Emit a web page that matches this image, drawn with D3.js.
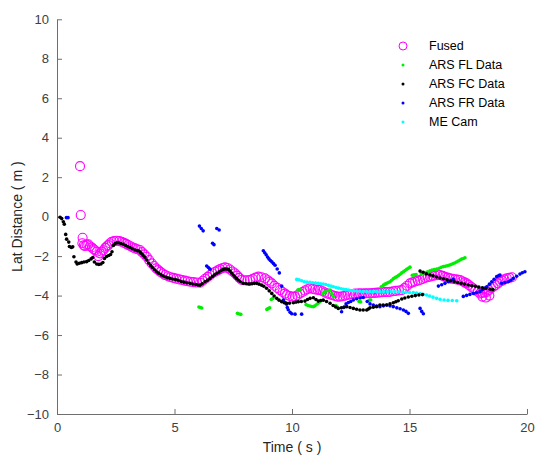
<!DOCTYPE html>
<html>
<head>
<meta charset="utf-8">
<script src="https://cdn.jsdelivr.net/npm/d3@7"></script>
<style>
  body { margin: 0; background: #fff; }
  svg { font-family: "Liberation Sans", Arial, sans-serif; }
</style>
</head>
<body>
<div id="chart"></div>
<script>
// tick labels
const xTicks = [0, 5, 10, 15, 20];
const yTicks = [-10, -8, -6, -4, -2, 0, 2, 4, 6, 8, 10];

// Fused estimate [time, lat]
const fused = [
  [0.98,2.56],[1.01,0.08],[1.09,-1.07],[1.08,-1.35],[1.14,-1.45],[1.19,-1.49],[1.26,-1.42],[1.33,-1.4],[1.4,-1.5],[1.48,-1.56],
  [1.55,-1.64],[1.62,-1.7],[1.69,-1.78],[1.76,-2.0],[1.83,-1.86],[1.9,-1.78],[1.97,-1.7],[2.05,-1.58],[2.12,-1.5],[2.18,-1.44],
  [2.25,-1.35],[2.33,-1.27],[2.43,-1.24],[2.54,-1.22],[2.65,-1.24],[2.75,-1.27],[2.85,-1.33],[2.94,-1.38],[3.03,-1.44],[3.13,-1.5],
  [3.22,-1.56],[3.32,-1.61],[3.42,-1.65],[3.53,-1.69],[3.62,-1.8],[3.72,-1.91],[3.82,-2.03],[3.92,-2.2],[4.03,-2.37],[4.13,-2.5],
  [4.22,-2.62],[4.31,-2.71],[4.4,-2.8],[4.5,-2.88],[4.6,-2.96],[4.72,-3.02],[4.83,-3.07],[4.95,-3.1],[5.07,-3.14],[5.2,-3.18],
  [5.32,-3.21],[5.44,-3.24],[5.55,-3.27],[5.66,-3.3],[5.8,-3.32],[5.95,-3.34],[6.09,-3.35],[6.2,-3.25],[6.3,-3.15],[6.41,-3.05],
  [6.51,-2.96],[6.62,-2.87],[6.73,-2.79],[6.84,-2.72],[6.94,-2.66],[7.05,-2.6],[7.15,-2.57],[7.25,-2.6],[7.36,-2.68],[7.47,-2.78],
  [7.57,-2.87],[7.67,-2.99],[7.76,-3.1],[7.86,-3.21],[7.98,-3.22],[8.1,-3.22],[8.21,-3.21],[8.33,-3.15],[8.45,-3.09],[8.57,-3.04],
  [8.7,-3.07],[8.85,-3.13],[8.97,-3.22],[9.05,-3.3],[9.14,-3.38],[9.25,-3.5],[9.37,-3.61],[9.49,-3.72],[9.6,-3.82],[9.7,-3.9],
  [9.77,-3.97],[9.9,-4.02],[10.02,-4.05],[10.13,-4.06],[10.23,-3.98],[10.34,-3.89],[10.45,-3.82],[10.55,-3.74],[10.66,-3.68],[10.77,-3.63],
  [10.88,-3.66],[10.98,-3.69],[11.09,-3.71],[11.19,-3.72],[11.3,-3.78],[11.4,-3.84],[11.51,-3.9],[11.62,-3.94],[11.72,-3.98],[11.83,-4.02],
  [11.94,-4.05],[12.04,-4.06],[12.15,-4.03],[12.26,-4.0],[12.36,-3.97],[12.47,-3.94],[12.58,-3.92],[12.68,-3.9],[12.79,-3.9],[12.89,-3.89],
  [13.0,-3.9],[13.1,-3.89],[13.21,-3.88],[13.32,-3.89],[13.42,-3.87],[13.53,-3.86],[13.64,-3.85],[13.74,-3.84],[13.85,-3.83],[13.96,-3.82],
  [14.06,-3.82],[14.17,-3.81],[14.3,-3.78],[14.42,-3.76],[14.55,-3.74],[14.67,-3.72],[14.78,-3.62],[14.9,-3.5],[15.02,-3.38],[15.13,-3.33],
  [15.24,-3.28],[15.35,-3.24],[15.45,-3.21],[15.56,-3.16],[15.66,-3.11],[15.77,-3.07],[15.87,-3.04],[15.98,-3.0],[16.09,-2.98],[16.2,-2.97],
  [16.3,-2.96],[16.41,-3.0],[16.51,-3.05],[16.62,-3.09],[16.72,-3.13],[16.83,-3.15],[16.94,-3.17],[17.04,-3.19],[17.15,-3.21],[17.24,-3.27],
  [17.34,-3.33],[17.43,-3.38],[17.52,-3.46],[17.62,-3.55],[17.71,-3.63],[17.8,-3.72],[17.9,-3.8],[18.0,-3.89],[18.1,-3.86],[18.19,-3.84],
  [18.29,-3.81],[18.38,-3.72],[18.48,-3.63],[18.57,-3.55],[18.66,-3.47],[18.76,-3.38],[18.85,-3.3],[18.95,-3.24],[19.04,-3.18],[19.14,-3.13],
  [19.25,-3.1],[19.36,-3.07],[18.1,-4.05],[18.25,-4.1],[18.4,-4.0]
];

// ARS front-left radar
const arsFL = [
  [6.04,-4.58],[6.1,-4.6],[6.16,-4.63],
  [7.68,-4.9],[7.75,-4.93],[7.82,-4.95],
  [8.93,-4.7],[8.99,-4.66],[9.05,-4.62],
  [9.12,-4.2],[9.18,-4.15],
  [10.25,-3.72],[10.3,-3.7],[10.36,-3.72],
  [10.6,-4.46],[10.68,-4.5],[10.76,-4.53],[10.84,-4.55],[10.91,-4.56],[10.98,-4.52],[11.06,-4.44],[11.13,-4.37],[11.19,-4.31],
  [11.3,-3.92],[11.36,-3.86],[11.42,-3.8],
  [11.56,-3.74],[11.62,-3.72],[11.69,-3.9],[11.76,-4.06],
  [11.86,-4.5],[11.92,-4.57],
  [12.85,-4.3],[12.92,-4.32],
  [13.28,-4.24],[13.35,-4.22],
  [13.8,-3.55],[13.89,-3.47],[13.96,-3.42],[14.03,-3.38],[14.1,-3.34],[14.17,-3.3],[14.24,-3.22],[14.32,-3.14],[14.39,-3.09],
  [14.46,-3.04],[14.53,-2.98],[14.6,-2.92],[14.67,-2.85],[14.74,-2.79],[14.81,-2.73],[14.88,-2.67],[14.95,-2.62],[15.02,-2.56],
  [15.12,-2.97],[15.2,-2.95],[15.28,-2.93],
  [15.5,-2.9],[15.59,-2.87],[15.68,-2.84],[15.77,-2.8],[15.87,-2.75],[15.96,-2.71],[16.06,-2.68],[16.16,-2.66],[16.26,-2.62],
  [16.35,-2.57],[16.44,-2.53],[16.52,-2.51],[16.6,-2.49],[16.68,-2.46],[16.76,-2.43],[16.84,-2.39],[16.92,-2.35],[17.0,-2.3],
  [17.08,-2.25],[17.15,-2.2],[17.22,-2.15],[17.29,-2.12],[17.36,-2.08]
];

// ARS front-centre radar
const arsFC = [
  [0.13,-0.03],[0.2,-0.1],[0.27,-0.26],[0.31,-0.38],[0.37,-0.9],[0.41,-1.14],[0.5,-1.29],[0.53,-1.51],[0.61,-1.56],[0.67,-1.53],
  [0.72,-2.03],[0.81,-2.3],[0.86,-2.4],[0.95,-2.36],[1.05,-2.33],[1.15,-2.3],[1.26,-2.28],[1.35,-2.22],[1.45,-2.14],[1.52,-2.07],
  [1.59,-2.3],[1.69,-2.4],[1.78,-2.42],[1.87,-2.4],[1.95,-2.32],[2.02,-2.12],[2.11,-2.02],[2.2,-1.97],[2.28,-1.92],[2.34,-1.78],
  [2.4,-1.46],[2.47,-1.36],[2.55,-1.32],[2.63,-1.32],[2.72,-1.36],[2.82,-1.4],[2.92,-1.46],[3.02,-1.52],[3.11,-1.56],[3.21,-1.63],
  [3.32,-1.69],[3.42,-1.72],[3.5,-1.75],[3.58,-1.85],[3.66,-1.95],[3.74,-2.06],[3.82,-2.2],[3.9,-2.35],[3.98,-2.47],[4.06,-2.58],
  [4.15,-2.69],[4.24,-2.79],[4.33,-2.87],[4.43,-2.95],[4.52,-3.01],[4.62,-3.06],[4.71,-3.1],[4.81,-3.13],[4.92,-3.16],[5.04,-3.19],
  [5.16,-3.22],[5.28,-3.28],[5.4,-3.32],[5.53,-3.35],[5.66,-3.38],[5.78,-3.41],[5.9,-3.44],[6.0,-3.46],[6.09,-3.47],[6.18,-3.4],
  [6.3,-3.3],[6.4,-3.22],[6.51,-3.13],[6.61,-3.03],[6.7,-2.95],[6.8,-2.87],[6.9,-2.8],[7.0,-2.72],[7.08,-2.67],[7.15,-2.65],
  [7.22,-2.65],[7.29,-2.67],[7.36,-2.76],[7.43,-2.86],[7.5,-2.96],[7.57,-3.05],[7.64,-3.13],[7.71,-3.21],[7.8,-3.3],[7.93,-3.38],
  [8.05,-3.4],[8.15,-3.41],[8.21,-3.41],[8.3,-3.4],[8.4,-3.38],[8.5,-3.38],[8.6,-3.42],[8.71,-3.47],[8.8,-3.53],[8.92,-3.63],
  [9.03,-3.76],[9.14,-3.89],[9.24,-4.02],[9.35,-4.14],[9.45,-4.23],[9.56,-4.31],[9.67,-4.36],[9.77,-4.39],[9.9,-4.38],[10.06,-4.36],
  [10.17,-4.33],[10.27,-4.31],[10.4,-4.3],[10.55,-4.28],[10.66,-4.2],[10.77,-4.14],[10.91,-4.11],[11.02,-4.2],[11.12,-4.28],[11.22,-4.25],
  [11.33,-4.23],[11.47,-4.3],[11.62,-4.39],[11.75,-4.5],[11.86,-4.58],[11.97,-4.65],[12.1,-4.62],[12.22,-4.58],[12.33,-4.56],[12.47,-4.6],
  [12.61,-4.65],[12.75,-4.69],[12.89,-4.73],[13.03,-4.73],[13.18,-4.73],[13.25,-4.68],[13.32,-4.62],[13.46,-4.59],[13.6,-4.56],[13.74,-4.48],
  [13.88,-4.48],[14.03,-4.48],[14.17,-4.42],[14.31,-4.36],[14.42,-4.31],[14.52,-4.26],[14.67,-4.17],[14.8,-4.12],[14.95,-4.07],[15.1,-4.03],
  [15.25,-4.0],[15.4,-3.97],[15.55,-3.95],
  [15.45,-2.76],[15.58,-2.82],[15.72,-2.9],[15.87,-2.96],[16.0,-3.0],[16.15,-3.06],[16.3,-3.11],[16.45,-3.15],[16.6,-3.2],[16.75,-3.25],
  [16.9,-3.3],[17.05,-3.34],[17.2,-3.38],[17.35,-3.42],[17.5,-3.46],[17.65,-3.5],[17.8,-3.53],[17.95,-3.57],[18.1,-3.61],[18.25,-3.64],
  [18.43,-3.68],[18.55,-3.7]
];

// ARS front-right radar
const arsFR = [
  [0.4,-0.05],[0.47,-0.05],
  [6.06,-0.48],[6.14,-0.6],[6.22,-0.72],
  [6.8,-0.6],[6.9,-0.68],
  [6.62,-1.35],[6.68,-1.42],
  [6.37,-2.5],[6.44,-2.58],[6.51,-2.66],
  [8.78,-1.73],[8.84,-1.83],[8.9,-1.93],[8.96,-2.05],[9.02,-2.14],[9.08,-2.22],[9.14,-2.29],[9.21,-2.38],[9.28,-2.46],[9.37,-2.65],[9.46,-2.85],
  [9.56,-3.52],[9.63,-4.23],[9.7,-4.35],[9.77,-4.44],[9.8,-4.6],[9.84,-4.72],[9.92,-4.85],[9.99,-4.92],[10.13,-4.94],[10.41,-4.94],
  [12.11,-4.82],[12.2,-4.6],[12.3,-4.42],[12.4,-4.35],[12.5,-4.3],[12.61,-4.22],[12.75,-4.16],[12.9,-4.12],[13.03,-4.1],[13.2,-4.3],
  [13.32,-4.42],[13.46,-4.48],[13.6,-4.53],[13.74,-4.56],[13.89,-4.52],[14.03,-4.48],[14.17,-4.52],[14.31,-4.56],[14.46,-4.62],[14.6,-4.67],
  [14.74,-4.73],[14.85,-4.8],[14.95,-4.9],[15.45,-4.65],[15.52,-4.8],[15.59,-4.92],
  [16.23,-3.52],[16.37,-3.45],[16.51,-3.38],[16.65,-3.3],[16.76,-3.24],[16.86,-3.18],
  [17.29,-4.04],[17.43,-3.99],[17.57,-3.94],[17.72,-3.89],[17.86,-3.84],[18.0,-3.8],[18.1,-3.7],[18.2,-3.62],[18.29,-3.55],[18.4,-3.42],
  [18.5,-3.3],[18.6,-3.17],[18.71,-3.04],[18.8,-2.98],[18.85,-2.96],
  [18.92,-3.38],[19.06,-3.34],[19.2,-3.3],[19.31,-3.22],[19.42,-3.13],[19.56,-3.02],[19.7,-2.91],[19.8,-2.84],[19.91,-2.79]
];

// Mobileye camera
const meCam = [
  [10.2,-3.18],[10.3,-3.2],[10.41,-3.25],[10.52,-3.3],[10.64,-3.32],[10.76,-3.33],[10.88,-3.35],[11.0,-3.36],[11.11,-3.38],[11.22,-3.4],
  [11.33,-3.41],[11.44,-3.44],[11.55,-3.48],[11.66,-3.52],[11.76,-3.55],[11.87,-3.59],[11.98,-3.62],[12.09,-3.65],[12.19,-3.68],[12.3,-3.7],
  [12.41,-3.72],[12.51,-3.74],[12.61,-3.75],[12.75,-3.77],[12.89,-3.78],[13.03,-3.79],[13.18,-3.8],[13.32,-3.8],[13.46,-3.8],[13.6,-3.8],
  [13.74,-3.8],[13.9,-3.8],[14.06,-3.8],[14.22,-3.8],[14.38,-3.8],[14.54,-3.81],[14.7,-3.82],[14.85,-3.83],[15.0,-3.84],[15.16,-3.85],
  [15.3,-3.87],[15.45,-3.9],[15.59,-3.94],[15.73,-3.97],[15.86,-4.02],[16.0,-4.08],[16.15,-4.14],[16.3,-4.19],[16.47,-4.22],[16.64,-4.24],
  [16.82,-4.25],[17.01,-4.26]
];

document.addEventListener("DOMContentLoaded", function() {

  const width = 535;
  const height = 459;

  const svg = d3.select("#chart")
                .append("svg")
                .attr("width", width)
                .attr("height", height);

  const x = d3.scaleLinear().domain([0, 20]).range([57, 527]);
  const y = d3.scaleLinear().domain([-10, 10]).range([414, 19.3]);

  // axes, MATLAB style: ticks point inward, no box
  const xAxis = svg.append("g")
                   .attr("transform", `translate(0,${y(-10)})`)
                   .call(d3.axisBottom(x).tickValues(xTicks).tickSizeInner(-5).tickSizeOuter(0).tickPadding(9));

  const yAxis = svg.append("g")
                   .attr("transform", `translate(${x(0)},0)`)
                   .call(d3.axisLeft(y).tickValues(yTicks).tickSizeInner(-5).tickSizeOuter(0).tickPadding(8));

  [xAxis, yAxis].forEach(a => {
    a.select(".domain").attr("stroke", "#6e6e6e");
    a.selectAll(".tick line").attr("stroke", "#6e6e6e");
    a.selectAll(".tick text")
     .attr("fill", "#404040")
     .style("font-size", "13px")
     .style("font-family", "Liberation Sans, Arial, sans-serif");
  });

  svg.append("text")
     .attr("x", x(10))
     .attr("y", 452)
     .attr("text-anchor", "middle")
     .attr("fill", "#262626")
     .style("font-size", "14px")
     .text("Time ( s )");

  svg.append("text")
     .attr("transform", `translate(22,${y(0)}) rotate(-90)`)
     .attr("text-anchor", "middle")
     .attr("fill", "#262626")
     .style("font-size", "14px")
     .text("Lat Distance ( m )");

  const plot = svg.append("g");

  // fused circles underneath
  plot.selectAll(".fused")
      .data(fused)
      .enter().append("circle")
      .attr("class", "fused")
      .attr("cx", d => x(d[0]))
      .attr("cy", d => y(d[1]))
      .attr("r", 4.5)
      .attr("fill", "none")
      .attr("stroke", "#ff00ff")
      .attr("stroke-width", 1.1);

  const dotSeries = [
    { name: "ARS FL Data", data: arsFL, color: "#00ee00" },
    { name: "ARS FR Data", data: arsFR, color: "#0000ff" },
    { name: "ME Cam", data: meCam, color: "#00ffff" },
    { name: "ARS FC Data", data: arsFC, color: "#000000" }
  ];

  dotSeries.forEach(s => {
    plot.append("g")
        .selectAll("circle")
        .data(s.data)
        .enter().append("circle")
        .attr("cx", d => x(d[0]))
        .attr("cy", d => y(d[1]))
        .attr("r", 1.8)
        .attr("fill", s.color);
  });

  // legend
  const legendItems = [
    { name: "Fused", color: "#ff00ff", circle: true },
    { name: "ARS FL Data", color: "#00ee00" },
    { name: "ARS FC Data", color: "#000000" },
    { name: "ARS FR Data", color: "#0000ff" },
    { name: "ME Cam", color: "#00ffff" }
  ];

  const legend = svg.selectAll(".legend")
                    .data(legendItems)
                    .enter().append("g")
                    .attr("class", "legend")
                    .attr("transform", (d, i) => `translate(403,${46 + i * 19})`);

  legend.append("circle")
        .attr("r", d => d.circle ? 4 : 1.5)
        .attr("fill", d => d.circle ? "none" : d.color)
        .attr("stroke", d => d.circle ? d.color : "none")
        .attr("stroke-width", 1);

  legend.append("text")
        .attr("x", 26)
        .attr("dy", "0.35em")
        .attr("fill", "#000")
        .style("font-size", "12.5px")
        .text(d => d.name);
});
</script>
</body>
</html>
